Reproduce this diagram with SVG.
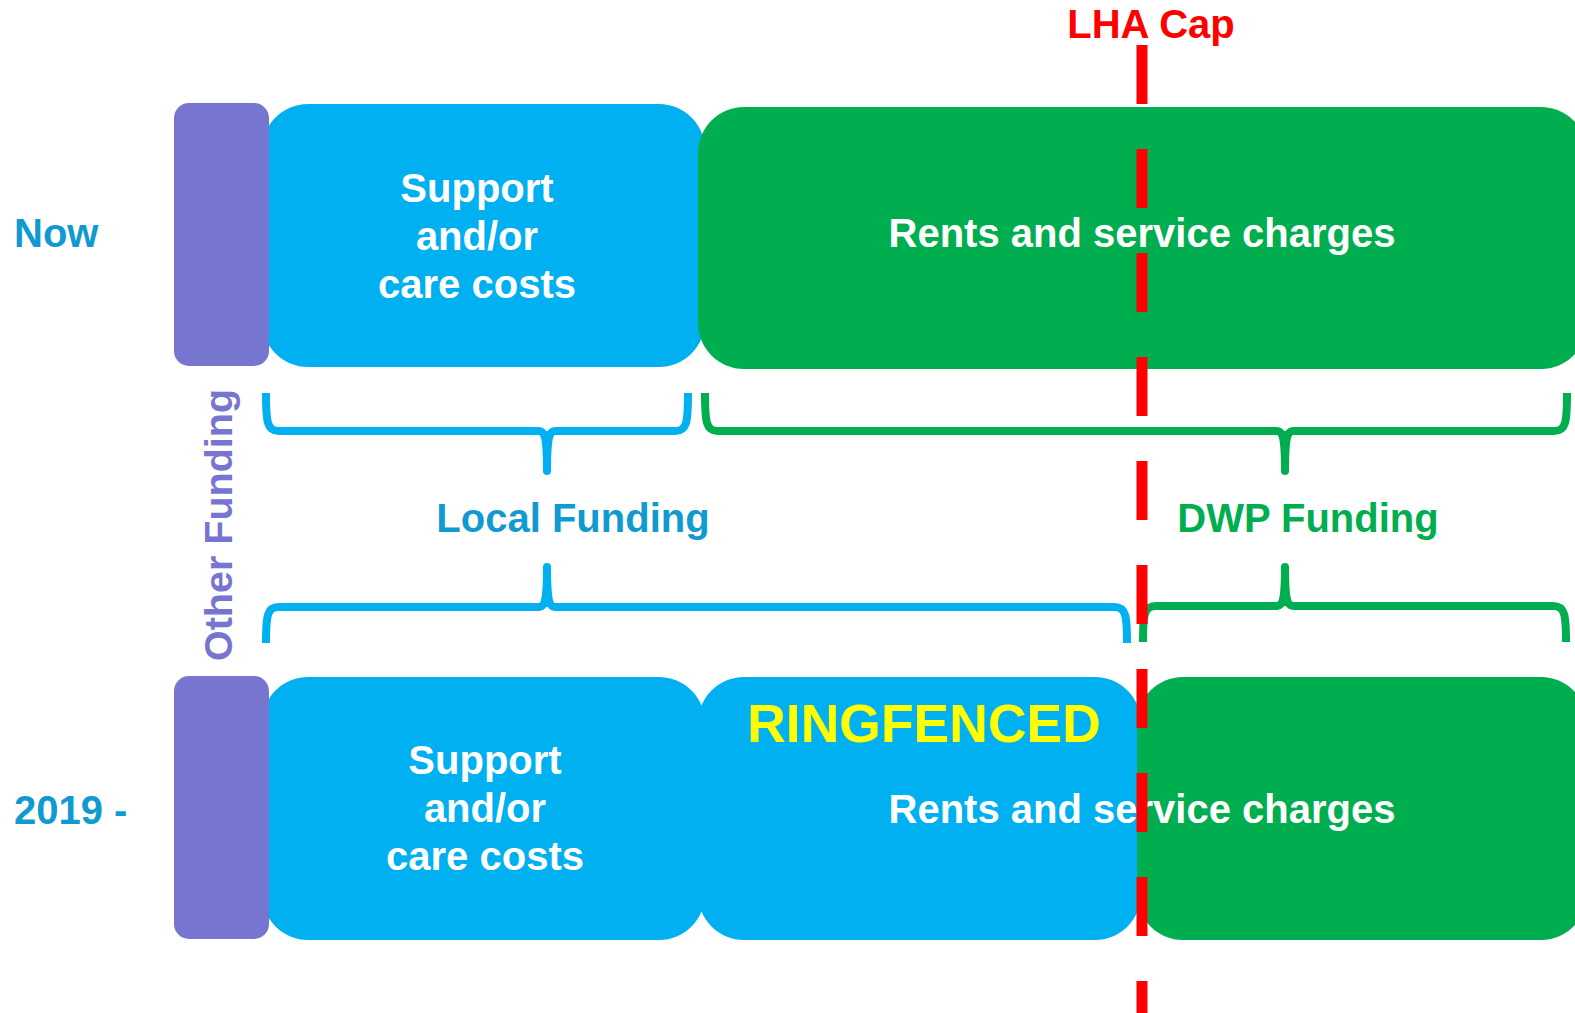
<svg xmlns="http://www.w3.org/2000/svg" width="1575" height="1013" viewBox="0 0 1575 1013">
<style>
text{font-family:"Liberation Sans",Arial,sans-serif;font-weight:bold;}
.w{fill:#ffffff;font-size:40px;text-anchor:middle;}
.lbl{fill:#109ad0;font-size:40px;}
.blue{fill:#00b0f0;}
.green{fill:#00ae4f;}
.purple{fill:#7676d0;}
.bb{fill:none;stroke:#00b0f0;stroke-width:8;}
.gb{fill:none;stroke:#00ae4f;stroke-width:8;}
</style>
<rect width="1575" height="1013" fill="#ffffff"/>

<g id="row-now">
  <g id="now-support"><rect class="blue" x="262" y="104" width="443" height="263" rx="46"/></g>
  <g id="now-rents"><rect class="green" x="698" y="107" width="889" height="262" rx="46"/></g>
  <g id="now-other"><rect class="purple" x="174" y="103" width="95" height="263" rx="15"/></g>
</g>
<g id="row-2019">
  <g id="n19-support"><rect class="blue" x="262" y="677" width="443" height="263" rx="46"/></g>
  <g id="n19-ringfenced"><rect class="blue" x="698" y="677" width="443" height="263" rx="46"/></g>
  <g id="n19-dwp"><rect class="green" x="1137" y="677" width="450" height="263" rx="46"/></g>
  <g id="n19-other"><rect class="purple" x="174" y="676" width="95" height="263" rx="15"/></g>
</g>

<g id="connectors">
  <g id="brace-local-top">
    <path class="bb" d="M266,393 C266,422 267,431 279,431 L539,431 C545,431 547,440 547,471 M688,393 C688,422 687,431 675,431 L555,431 C549,431 547,440 547,471"/>
    <path fill="#00b0f0" d="M539,431 C545,431 547,440 547,471 C547,440 549,431 555,431 Z"/>
    <circle cx="547" cy="471" r="4" fill="#00b0f0"/>
  </g>
  <g id="brace-dwp-top">
    <path class="gb" d="M705,393 C705,422 706,431 718,431 L1277,431 C1283,431 1285,440 1285,471 M1567,393 C1567,422 1566,431 1554,431 L1293,431 C1287,431 1285,440 1285,471"/>
    <path fill="#00ae4f" d="M1277,431 C1283,431 1285,440 1285,471 C1285,440 1287,431 1293,431 Z"/>
    <circle cx="1285" cy="471" r="4" fill="#00ae4f"/>
  </g>
  <g id="brace-local-bottom">
    <path class="bb" d="M266,643 C266,616 267,607 279,607 L539,607 C545,607 547,598 547,567 M1127,643 C1127,616 1126,607 1114,607 L555,607 C549,607 547,598 547,567"/>
    <path fill="#00b0f0" d="M539,607 C545,607 547,598 547,567 C547,598 549,607 555,607 Z"/>
    <circle cx="547" cy="567" r="4" fill="#00b0f0"/>
  </g>
  <g id="brace-dwp-bottom">
    <path class="gb" d="M1143,642 C1143,615 1144,606 1156,606 L1277,606 C1283,606 1285,597 1285,567 M1566,642 C1566,615 1565,606 1553,606 L1293,606 C1287,606 1285,597 1285,567"/>
    <path fill="#00ae4f" d="M1277,606 C1283,606 1285,597 1285,567 C1285,597 1287,606 1293,606 Z"/>
    <circle cx="1285" cy="567" r="4" fill="#00ae4f"/>
  </g>
</g>

<g id="labels">
  <text class="w" x="477" y="202">Support</text>
  <text class="w" x="477" y="250">and/or</text>
  <text class="w" x="477" y="298">care costs</text>
  <text class="w" x="1142" y="247">Rents and service charges</text>

  <text class="w" x="485" y="774">Support</text>
  <text class="w" x="485" y="822">and/or</text>
  <text class="w" x="485" y="870">care costs</text>
  <text x="924" y="742" style="fill:#ffff00;font-size:53.5px;text-anchor:middle">RINGFENCED</text>
  <text class="w" x="1142" y="823">Rents and service charges</text>

  <text class="lbl" x="14" y="247">Now</text>
  <text class="lbl" x="14" y="824">2019 -</text>
  <text class="lbl" x="573" y="532" text-anchor="middle">Local Funding</text>
  <text x="1308" y="532" style="fill:#00ae4f;font-size:40px;text-anchor:middle">DWP Funding</text>
  <text x="232" y="525" transform="rotate(-90 232 525)" style="fill:#7676d0;font-size:39.5px;text-anchor:middle">Other Funding</text>
</g>

<g id="lha-cap">
  <line x1="1142" y1="45" x2="1142" y2="1013" stroke="#ff0000" stroke-width="11" stroke-dasharray="59 45"/>
  <text x="1151" y="38" style="fill:#ff0000;font-size:40px;text-anchor:middle">LHA Cap</text>
</g>
</svg>
